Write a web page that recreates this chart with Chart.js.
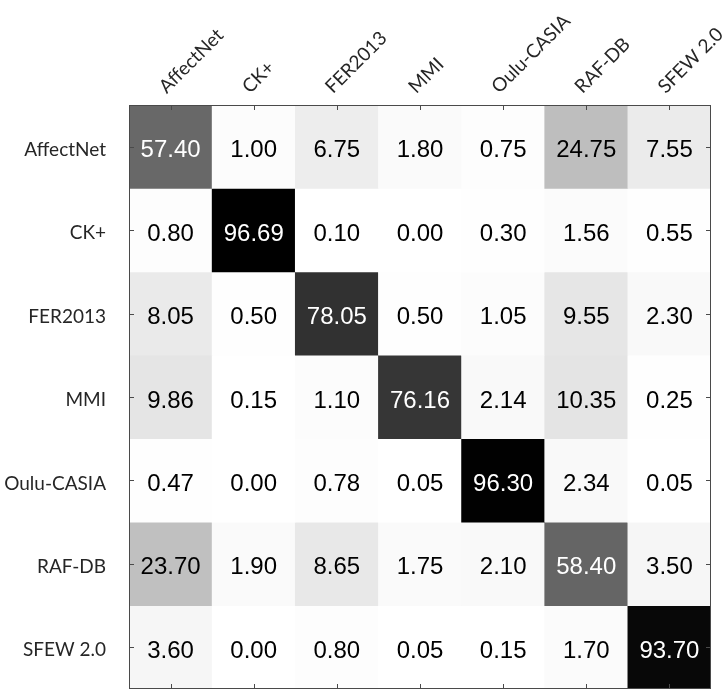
<!DOCTYPE html>
<html>
<head>
<meta charset="utf-8">
<script src="https://cdn.jsdelivr.net/npm/chart.js@4"></script>
<style>
  html, body { margin: 0; padding: 0; background: #fff; }
  #wrap { width: 728px; height: 696px; }
</style>
</head>
<body>
<div id="wrap"><canvas id="heatmap" width="728" height="696"></canvas></div>
<script>
// datasets tested on (columns) and trained on (rows)
const datasetNames = ['AffectNet', 'CK+', 'FER2013', 'MMI', 'Oulu-CASIA', 'RAF-DB', 'SFEW 2.0'];

const rowAffectNet = [57.40, 1.00, 6.75, 1.80, 0.75, 24.75, 7.55];
const rowCK        = [0.80, 96.69, 0.10, 0.00, 0.30, 1.56, 0.55];
const rowFER2013   = [8.05, 0.50, 78.05, 0.50, 1.05, 9.55, 2.30];
const rowMMI       = [9.86, 0.15, 1.10, 76.16, 2.14, 10.35, 0.25];
const rowOulu      = [0.47, 0.00, 0.78, 0.05, 96.30, 2.34, 0.05];
const rowRAF       = [23.70, 1.90, 8.65, 1.75, 2.10, 58.40, 3.50];
const rowSFEW      = [3.60, 0.00, 0.80, 0.05, 0.15, 1.70, 93.70];

const rows = [rowAffectNet, rowCK, rowFER2013, rowMMI, rowOulu, rowRAF, rowSFEW];
const maxValue = Math.max(...rows.flat());

function grayFor(v) {
  const g = Math.round(255 * (1 - v / maxValue));
  return `rgb(${g},${g},${g})`;
}

const datasets = rows.map((values, r) => ({
  label: datasetNames[r],
  data: values.map(() => [r, r + 1]),
  cellValues: values,
  backgroundColor: values.map(grayFor),
  borderWidth: 0,
  barPercentage: 1,
  categoryPercentage: 1,
  grouped: false
}));

// writes the number in each cell and draws the frame with inward ticks
const cellPlugin = {
  id: 'cells',
  afterDatasetsDraw(chart) {
    const ctx = chart.ctx;
    ctx.save();
    ctx.font = '24px "Liberation Sans", Arial, sans-serif';
    ctx.textAlign = 'center';
    ctx.textBaseline = 'middle';
    chart.data.datasets.forEach((ds, i) => {
      chart.getDatasetMeta(i).data.forEach((bar, j) => {
        const v = ds.cellValues[j];
        ctx.fillStyle = v > 45 ? '#ffffff' : '#000000';
        ctx.fillText(v.toFixed(2), bar.x, (bar.y + bar.base) / 2 + 4);
      });
    });

    const a = chart.chartArea;
    const x = chart.scales.x, y = chart.scales.y;
    ctx.strokeStyle = '#4a4a4a';
    ctx.lineWidth = 1;
    ctx.beginPath();
    x.ticks.forEach((t, i) => {
      const px = Math.round(x.getPixelForTick(i)) + 0.5;
      ctx.moveTo(px, a.top); ctx.lineTo(px, a.top + 5);
      ctx.moveTo(px, a.bottom); ctx.lineTo(px, a.bottom - 5);
    });
    y.ticks.forEach((t, i) => {
      const py = Math.round(y.getPixelForTick(i)) + 0.5;
      ctx.moveTo(a.left, py); ctx.lineTo(a.left + 5, py);
      ctx.moveTo(a.right, py); ctx.lineTo(a.right - 5, py);
    });
    ctx.stroke();
    ctx.strokeRect(a.left + 0.5, a.top + 0.5, a.right - a.left - 1, a.bottom - a.top - 1);
    ctx.restore();
  }
};

new Chart(document.getElementById('heatmap'), {
  type: 'bar',
  data: { labels: datasetNames, datasets },
  plugins: [cellPlugin],
  options: {
    responsive: false,
    animation: false,
    layout: { padding: { left: 0, top: 0, right: 17, bottom: 7 } },
    plugins: { legend: { display: false }, tooltip: { enabled: false } },
    scales: {
      x: {
        position: 'top',
        offset: true,
        grid: { display: false },
        border: { display: false },
        ticks: {
          minRotation: 45,
          maxRotation: 45,
          autoSkip: false,
          padding: -1,
          labelOffset: 8,
          color: '#262626',
          font: { family: 'Lato, "Open Sans", sans-serif', size: 19 }
        },
        afterFit(scale) {
          scale.height = 105;
          scale.paddingLeft = 0;
          scale.paddingRight = 0;
        }
      },
      y: {
        type: 'linear',
        min: 0,
        max: 7,
        reverse: true,
        grid: { display: false },
        border: { display: false },
        afterBuildTicks(scale) {
          scale.ticks = datasetNames.map((_, i) => ({ value: i + 0.5 }));
        },
        ticks: {
          autoSkip: false,
          padding: 15,
          labelOffset: 3,
          color: '#262626',
          font: { family: 'Lato, "Open Sans", sans-serif', size: 19 },
          callback: (value, index) => datasetNames[index]
        },
        afterFit(scale) {
          scale.width = 129;
          scale.paddingTop = 0;
          scale.paddingBottom = 0;
        }
      }
    }
  }
});
</script>
</body>
</html>
